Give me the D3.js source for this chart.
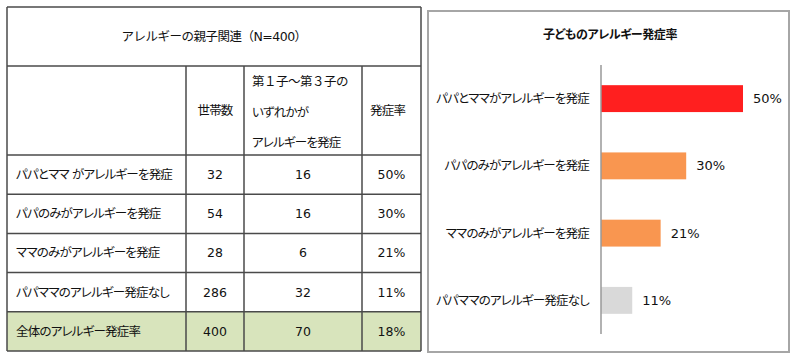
<!DOCTYPE html>
<html>
<head>
<meta charset="utf-8">
<script src="https://cdn.jsdelivr.net/npm/d3@7"></script>
<style>
  body { margin: 0; background: #fff; }
  svg text { font-family: "DejaVu Sans", "Noto Sans CJK JP", sans-serif; font-feature-settings: "palt"; fill: #111; }
  svg text.jp { font-size: 12.5px; letter-spacing: -0.8px; }
  svg text.jpw { font-size: 12.5px; letter-spacing: -0.5px; font-feature-settings: normal; }
  svg text.num { font-size: 12.5px; }
</style>
</head>
<body>
<div id="chart"></div>
<script>
(function(d3) {

// table data
var tableTitle = 'アレルギーの親子関連（N=400）';
var rowLabels = ['パパとママ がアレルギーを発症', 'パパのみがアレルギーを発症', 'ママのみがアレルギーを発症', 'パパママのアレルギー発症なし', '全体のアレルギー発症率'];
var households = [32, 54, 28, 286, 400];
var affected = [16, 16, 6, 32, 70];
var rates = [50, 30, 21, 11, 18];

// chart data
var chartTitle = '子どものアレルギー発症率';
var barLabels = ['パパとママがアレルギーを発症', 'パパのみがアレルギーを発症', 'ママのみがアレルギーを発症', 'パパママのアレルギー発症なし'];
var barValues = [50, 30, 21, 11];
var barColors = ['#ff1f1f', '#f99650', '#f99650', '#d9d9d9'];

var width = 800,
    height = 364;

var svg = d3.select('#chart')
  .append('svg')
  .attr('width', width)
  .attr('height', height);

// ---- table ----
var tLeft = 7, tRight = 421, tTop = 7, titleBottom = 66, headBottom = 155, tBottom = 351;
var colEdges = [tLeft, 186, 244, 362, tRight];
var lineColor = '#4a4a4a';

var rowY = d3.scaleBand()
  .domain(rowLabels)
  .range([headBottom, tBottom]);

var table = svg.append('g');

// last row (total) shaded green
table.append('rect')
  .attr('x', tLeft)
  .attr('y', rowY(rowLabels[4]))
  .attr('width', tRight - tLeft)
  .attr('height', rowY.bandwidth())
  .attr('fill', '#d8e4bc');

// horizontal lines
var hLines = [tTop, titleBottom, headBottom].concat(rowLabels.map(function(d) { return rowY(d) + rowY.bandwidth(); }));
table.selectAll('line.h')
  .data(hLines)
  .enter()
  .append('line')
  .attr('x1', tLeft).attr('x2', tRight)
  .attr('y1', function(d) { return d; })
  .attr('y2', function(d) { return d; })
  .attr('stroke', lineColor)
  .attr('stroke-width', 1.5);

// vertical lines
table.selectAll('line.v')
  .data(colEdges)
  .enter()
  .append('line')
  .attr('x1', function(d) { return d; })
  .attr('x2', function(d) { return d; })
  .attr('y1', function(d, i) { return (i === 0 || i === colEdges.length - 1) ? tTop : titleBottom; })
  .attr('y2', tBottom)
  .attr('stroke', lineColor)
  .attr('stroke-width', 1.5);

table.append('text')
  .attr('class', 'jpw')
  .attr('x', (tLeft + tRight) / 2)
  .attr('y', (tTop + titleBottom) / 2)
  .attr('dy', '0.35em')
  .attr('text-anchor', 'middle')
  .text(tableTitle);

// header
var headMid = (titleBottom + headBottom) / 2;
table.append('text')
  .attr('class', 'jp')
  .attr('x', (colEdges[1] + colEdges[2]) / 2)
  .attr('y', headMid)
  .attr('dy', '0.35em')
  .attr('text-anchor', 'middle')
  .text('世帯数');

table.selectAll('text.h3')
  .data(['第１子～第３子の', 'いずれかが', 'アレルギーを発症'])
  .enter()
  .append('text')
  .attr('class', function(d, i) { return i === 0 ? 'jpw' : 'jp'; })
  .attr('x', colEdges[2] + 8)
  .attr('y', function(d, i) { return 82 + i * 30.5; })
  .attr('dy', '0.35em')
  .text(function(d) { return d; });

table.append('text')
  .attr('class', 'jp')
  .attr('x', colEdges[3] + 8)
  .attr('y', headMid)
  .attr('dy', '0.35em')
  .text('発症率');

// body rows
var rows = table.selectAll('g.row')
  .data(rowLabels)
  .enter()
  .append('g')
  .attr('transform', function(d) { return 'translate(0,' + (rowY(d) + rowY.bandwidth() / 2) + ')'; });

rows.append('text')
  .attr('class', 'jp')
  .attr('x', tLeft + 9)
  .attr('dy', '0.35em')
  .text(function(d) { return d; });

rows.append('text')
  .attr('class', 'num')
  .attr('x', (colEdges[1] + colEdges[2]) / 2)
  .attr('dy', '0.35em')
  .attr('text-anchor', 'middle')
  .text(function(d, i) { return households[i]; });

rows.append('text')
  .attr('class', 'num')
  .attr('x', (colEdges[2] + colEdges[3]) / 2)
  .attr('dy', '0.35em')
  .attr('text-anchor', 'middle')
  .text(function(d, i) { return affected[i]; });

rows.append('text')
  .attr('class', 'num')
  .attr('x', (colEdges[3] + colEdges[4]) / 2)
  .attr('dy', '0.35em')
  .attr('text-anchor', 'middle')
  .text(function(d, i) { return rates[i] + '%'; });

// ---- bar chart ----
var chart = svg.append('g');

chart.append('rect')
  .attr('x', 428)
  .attr('y', 11)
  .attr('width', 789 - 428)
  .attr('height', 352 - 11)
  .attr('fill', '#fff')
  .attr('stroke', '#a6a6a6')
  .attr('stroke-width', 2);

chart.append('text')
  .attr('x', 610)
  .attr('y', 35)
  .attr('dy', '0.35em')
  .attr('text-anchor', 'middle')
  .style('font-size', '12px')
  .style('letter-spacing', '-0.4px')
  .style('font-weight', 'bold')
  .text(chartTitle);

var x = d3.scaleLinear()
  .domain([0, 50])
  .range([601, 743]);

var y = d3.scaleBand()
  .domain(barLabels)
  .range([65, 334])
  .paddingInner(0.6)
  .paddingOuter(0.3);

chart.selectAll('rect.bar')
  .data(barValues)
  .enter()
  .append('rect')
  .attr('class', 'bar')
  .attr('x', x(0))
  .attr('y', function(d, i) { return y(barLabels[i]); })
  .attr('width', function(d) { return x(d) - x(0); })
  .attr('height', y.bandwidth())
  .attr('fill', function(d, i) { return barColors[i]; });

chart.selectAll('text.val')
  .data(barValues)
  .enter()
  .append('text')
  .attr('x', function(d) { return x(d) + 10; })
  .attr('y', function(d, i) { return y(barLabels[i]) + y.bandwidth() / 2; })
  .attr('dy', '0.35em')
  .style('font-size', '13px')
  .text(function(d) { return d + '%'; });

chart.selectAll('text.cat')
  .data(barLabels)
  .enter()
  .append('text')
  .attr('class', 'jp')
  .attr('x', 589)
  .attr('y', function(d) { return y(d) + y.bandwidth() / 2; })
  .attr('dy', '0.35em')
  .attr('text-anchor', 'end')
  .text(function(d) { return d; });

chart.append('line')
  .attr('x1', x(0)).attr('x2', x(0))
  .attr('y1', 65).attr('y2', 334)
  .attr('stroke', '#999')
  .attr('stroke-width', 1.5);

})(window.d3);
</script>
</body>
</html>
